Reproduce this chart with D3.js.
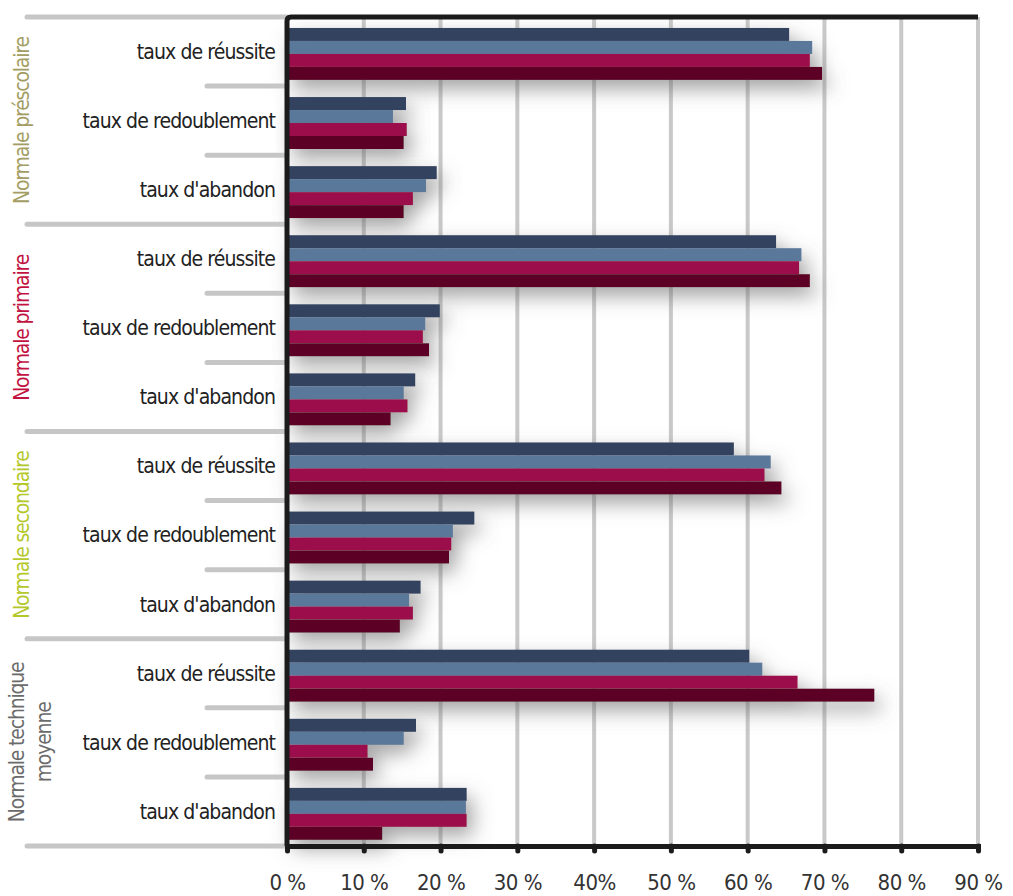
<!DOCTYPE html>
<html>
<head>
<meta charset="utf-8">
<script src="https://cdn.jsdelivr.net/npm/d3@7"></script>
<style>
  body { margin: 0; background: #fff; }
  text { font-family: "Liberation Sans Narrow", "DejaVu Sans Condensed", "Roboto Condensed", sans-serif; }
</style>
</head>
<body>
<div id="chart"></div>
<script>
// Data
const groups = ["Normale préscolaire", "Normale primaire", "Normale secondaire", "Normale technique moyenne"];
const groupColors = ["#a39d63", "#c2123f", "#b4c82a", "#6b6b6b"];
const indicators = ["taux de réussite", "taux de redoublement", "taux d'abandon"];
const series = ["s1", "s2", "s3", "s4"];
const seriesColors = ["#33435f", "#5a7899", "#9b0f4b", "#5c0125"];
const tickLabels = ["0 %", "10 %", "20 %", "30 %", "40%", "50 %", "60 %", "70 %", "80 %", "90 %"];

// values per group, per indicator, per series (%)
const prescolaire = [[65.4, 68.4, 68.1, 69.7], [15.5, 13.8, 15.6, 15.2], [19.5, 18.1, 16.4, 15.2]];
const primaire    = [[63.7, 67.0, 66.7, 68.1], [19.9, 18.0, 17.7, 18.5], [16.7, 15.2, 15.7, 13.5]];
const secondaire  = [[58.2, 63.0, 62.2, 64.4], [24.4, 21.6, 21.4, 21.1], [17.4, 15.9, 16.4, 14.7]];
const technique   = [[60.2, 61.9, 66.5, 76.5], [16.8, 15.2, 10.5, 11.2], [23.4, 23.3, 23.4, 12.4]];
const values = [prescolaire, primaire, secondaire, technique];

// Dimensions
const width = 1013;
const height = 896;
const marginTop = 17;
const marginBottom = 50;
const marginLeft = 287;
const marginRight = 35;

// Flatten rows
const rows = [];
groups.forEach((g, gi) => indicators.forEach((ind, ii) => {
  rows.push({key: `${gi}-${ii}`, group: g, gi, label: ind, vals: values[gi][ii]});
}));

const x = d3.scaleLinear()
  .domain([0, 90])
  .range([marginLeft, width - marginRight]);

const y = d3.scaleBand()
  .domain(rows.map(d => d.key))
  .range([marginTop, height - marginBottom]);

const yGroup = d3.scaleBand()
  .domain(groups)
  .range([marginTop, height - marginBottom]);

const ySeries = d3.scaleBand()
  .domain(series)
  .range([0, y.bandwidth()])
  .paddingOuter(0.66)
  .align(0.64);

const svg = d3.select("#chart").append("svg")
  .attr("width", width)
  .attr("height", height)
  .attr("viewBox", [0, 0, width, height]);

const defs = svg.append("defs");
const shadow = defs.append("filter")
  .attr("id", "shadow")
  .attr("x", "-10%").attr("y", "-30%")
  .attr("width", "130%").attr("height", "200%");
shadow.append("feDropShadow")
  .attr("dx", 6).attr("dy", 9)
  .attr("stdDeviation", 10)
  .attr("flood-color", "#666")
  .attr("flood-opacity", 0.6);

// Grid lines
svg.append("g")
  .selectAll("line")
  .data(d3.range(10, 100, 10))
  .join("line")
  .attr("x1", d => x(d)).attr("x2", d => x(d))
  .attr("y1", marginTop).attr("y2", height - marginBottom)
  .attr("stroke", "#c9c9c9")
  .attr("stroke-width", 4);

// Bars
const rowG = svg.append("g")
  .selectAll("g")
  .data(rows)
  .join("g")
  .attr("transform", d => `translate(0,${y(d.key)})`)
  .attr("filter", "url(#shadow)");

rowG.selectAll("rect")
  .data(d => d.vals.map((v, i) => ({s: series[i], v, c: seriesColors[i]})))
  .join("rect")
  .attr("x", x(0))
  .attr("y", d => ySeries(d.s))
  .attr("width", d => x(d.v) - x(0))
  .attr("height", ySeries.bandwidth())
  .attr("fill", d => d.c);

// Left separators: long at group limits, short between indicators
const sepG = svg.append("g")
  .attr("stroke", "#c6c6c6")
  .attr("stroke-width", 5)
  .attr("stroke-linecap", "round");

sepG.selectAll("line.long")
  .data(groups.map(g => yGroup(g)).concat([height - marginBottom]))
  .join("line")
  .attr("class", "long")
  .attr("x1", 27).attr("x2", marginLeft)
  .attr("y1", d => d).attr("y2", d => d);

sepG.selectAll("line.short")
  .data(rows.filter((d, i) => i % 3 !== 0))
  .join("line")
  .attr("class", "short")
  .attr("x1", 207).attr("x2", marginLeft)
  .attr("y1", d => y(d.key)).attr("y2", d => y(d.key));

// Indicator labels
svg.append("g")
  .selectAll("text")
  .data(rows)
  .join("text")
  .attr("x", marginLeft - 12)
  .attr("y", d => y(d.key) + y.bandwidth() / 2)
  .attr("dy", "0.35em")
  .attr("text-anchor", "end")
  .attr("font-size", 21)
  .attr("fill", "#222")
  .attr("letter-spacing", -0.9)
  .text(d => d.label);

// Group labels (rotated)
const gl = svg.append("g")
  .selectAll("text")
  .data(groups)
  .join("text")
  .attr("transform", (d, i) => {
    const cy = yGroup(d) + yGroup.bandwidth() / 2;
    const cx = i === 3 ? 37 : 22;
    return `translate(${cx},${cy}) rotate(-90)`;
  })
  .attr("text-anchor", "middle")
  .attr("dy", "0.35em")
  .attr("font-size", 21)
  .attr("letter-spacing", -1.2)
  .attr("fill", (d, i) => groupColors[i]);

gl.filter((d, i) => i < 3).text(d => d);
gl.filter((d, i) => i === 3).each(function() {
  const t = d3.select(this);
  t.append("tspan").attr("x", 0).attr("dy", "-0.6em").text("Normale technique");
  t.append("tspan").attr("x", 0).attr("dy", "1.25em").text("moyenne");
});

// Frame: top line and left axis
svg.append("path")
  .attr("d", `M${x(90)},${marginTop}H${x(0) + 4}Q${x(0)},${marginTop} ${x(0)},${marginTop + 4}V${height - marginBottom}`)
  .attr("fill", "none")
  .attr("stroke", "#1b1b1b")
  .attr("stroke-width", 5);

// Bottom axis
svg.append("g")
  .attr("transform", `translate(0,${height - marginBottom})`)
  .call(d3.axisBottom(x).tickValues(d3.range(0, 100, 10)).tickSize(5).tickPadding(23)
    .tickFormat((d, i) => tickLabels[i]))
  .call(g => g.select(".domain").attr("stroke", "#1b1b1b").attr("stroke-width", 5))
  .call(g => g.selectAll(".tick line").attr("stroke", "#1b1b1b").attr("stroke-width", 5).attr("stroke-linecap", "round"))
  .call(g => g.selectAll(".tick text")
    .attr("font-size", 22)
    .attr("fill", "#333")
    .attr("letter-spacing", -0.5)
    .attr("font-family", "\"Liberation Sans Narrow\", \"DejaVu Sans Condensed\", sans-serif"));
</script>
</body>
</html>
